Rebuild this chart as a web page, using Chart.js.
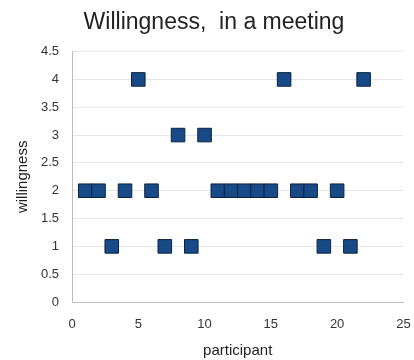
<!DOCTYPE html>
<html>
<head>
<meta charset="utf-8">
<script src="https://cdn.jsdelivr.net/npm/chart.js@4/dist/chart.umd.min.js"></script>
<style>
  html, body { margin: 0; padding: 0; background: #ffffff; }
  #wrap { width: 414px; height: 360px; }
</style>
</head>
<body>
<div id="wrap"><canvas id="c" width="414" height="360"></canvas></div>
<script>
// Participant numbers and their willingness scores
const participants = [1, 2, 3, 4, 5, 6, 7, 8, 9, 10, 11, 12, 13, 14, 15, 16, 17, 18, 19, 20, 21, 22];
const willingness  = [2, 2, 1, 2, 4, 2, 1, 3, 1, 3, 2, 2, 2, 2, 2, 4, 2, 2, 1, 2, 1, 4];

const titleText = 'Willingness,  in a meeting';
const xTitle = 'participant';
const yTitle = 'willingness';

const points = participants.map((p, i) => ({ x: p, y: willingness[i] }));

const fontFamily = '"Liberation Sans", Arial, sans-serif';

new Chart(document.getElementById('c'), {
  type: 'scatter',
  data: {
    datasets: [{
      data: points,
      pointStyle: 'rect',
      pointRadius: 9.6,
      pointHoverRadius: 9.6,
      backgroundColor: '#174a86',
      borderColor: '#0b2340',
      borderWidth: 1
    }]
  },
  options: {
    responsive: false,
    animation: false,
    devicePixelRatio: 1,
    layout: { padding: { left: 14, right: 0, top: 0, bottom: 0 } },
    plugins: {
      legend: { display: false },
      tooltip: { enabled: false },
      title: {
        display: true,
        text: titleText,
        color: '#222222',
        font: { family: fontFamily, size: 23, weight: 'normal' },
        padding: { top: 9, bottom: 15 }
      }
    },
    scales: {
      x: {
        type: 'linear',
        min: 0, max: 25,
        ticks: { stepSize: 5, color: '#333333', font: { family: fontFamily, size: 13 }, padding: 15 },
        grid: { display: false, drawTicks: false },
        border: { display: true, color: '#bdbdbd', width: 1 },
        title: { display: true, text: xTitle, color: '#222222', font: { family: fontFamily, size: 15 }, padding: { top: 2, bottom: 0 } },
        afterFit(scale) { scale.height = 58; scale.paddingRight = 8; }
      },
      y: {
        type: 'linear',
        min: 0, max: 4.5,
        ticks: {
          stepSize: 0.5, color: '#333333', font: { family: fontFamily, size: 13 }, padding: 13,
          callback: (v) => String(v)
        },
        grid: { color: '#e6e6e6', lineWidth: 1, drawTicks: false },
        border: { display: true, color: '#bdbdbd', width: 1 },
        title: { display: true, text: yTitle, color: '#222222', font: { family: fontFamily, size: 15 }, padding: { top: 0, bottom: 4 } },
        afterFit(scale) { scale.width = 58; scale.paddingTop = 0; }
      }
    }
  }
});
</script>
</body>
</html>
